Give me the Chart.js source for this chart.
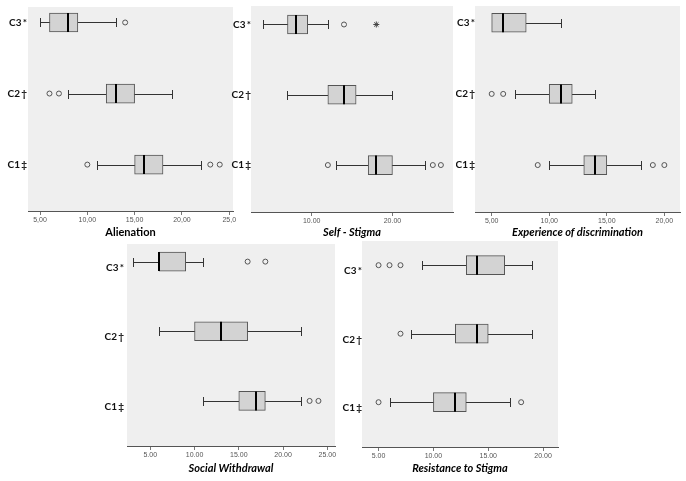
<!DOCTYPE html>
<html>
<head>
<meta charset="utf-8">
<script src="https://cdn.jsdelivr.net/npm/chart.js@4.4.1/dist/chart.umd.min.js"></script>
<style>
  body { margin: 0; background: #fff; }
  #wrap { position: relative; width: 686px; height: 481px; overflow: hidden; }
  canvas { position: absolute; }
</style>
</head>
<body>
<div id="wrap">
  <canvas id="alien"></canvas>
  <canvas id="stigma"></canvas>
  <canvas id="discr"></canvas>
  <canvas id="withdraw"></canvas>
  <canvas id="resist"></canvas>
</div>
<script>
// groups, top to bottom
const groups = ['C3', 'C2', 'C1'];
const marks = ['*', '\u2020', '\u2021'];
const groupPos = [3, 2, 1];

// Alienation
const alienMin = [5, 8, 11];
const alienQ1 = [6, 12, 15];
const alienMed = [8, 13, 16];
const alienQ3 = [9, 15, 18];
const alienMax = [13, 19, 22];
const alienOut = [[14], [6, 7], [10, 23, 24]];
const alienExt = [[], [], []];
const alienTicks = [5, 10, 15, 20, 25];
const alienTickLabels = ['5,00', '10,00', '15,00', '20,00', '25,0'];

// Self - Stigma
const stigMin = [4, 7, 13];
const stigQ1 = [7, 12, 17];
const stigMed = [8, 14, 18];
const stigQ3 = [9.5, 15.5, 20];
const stigMax = [12, 20, 24];
const stigOut = [[14], [], [12, 25, 26]];
const stigExt = [[18], [], []];
const stigTicks = [10, 20];
const stigTickLabels = ['10.00', '20.00'];

// Experience of discrimination
const discMin = [5, 7, 10];
const discQ1 = [5, 10, 13];
const discMed = [6, 11, 14];
const discQ3 = [8, 12, 15];
const discMax = [11, 14, 18];
const discOut = [[], [5, 6], [9, 19, 20]];
const discExt = [[], [], []];
const discTicks = [5, 10, 15, 20];
const discTickLabels = ['5,00', '10,00', '15,00', '20,00'];

// Social Withdrawal
const withMin = [3, 6, 11];
const withQ1 = [6, 10, 15];
const withMed = [6, 13, 17];
const withQ3 = [9, 16, 18];
const withMax = [11, 22, 22];
const withOut = [[16, 18], [], [23, 24]];
const withExt = [[], [], []];
const withTicks = [5, 10, 15, 20, 25];
const withTickLabels = ['5.00', '10.00', '15.00', '20.00', '25.00'];

// Resistance to Stigma
const resMin = [9, 8, 6];
const resQ1 = [13, 12, 10];
const resMed = [14, 14, 12];
const resQ3 = [16.5, 15, 13];
const resMax = [19, 19, 17];
const resOut = [[5, 6, 7], [7], [5, 18]];
const resExt = [[], [], []];
const resTicks = [5, 10, 15, 20];
const resTickLabels = ['5.00', '10.00', '15.00', '20.00'];

const boxH = 19;

function makePanel(id, box, lay, title, italic) {
  const el = document.getElementById(id);
  el.width = lay.w; el.height = lay.h;
  el.style.left = lay.x + 'px'; el.style.top = lay.y + 'px';

  const flat = arr => arr.flatMap((vals, i) => vals.map(v => ({x: v, y: groupPos[i]})));

  const whiskers = {
    id: 'whiskers',
    beforeDraw(chart) {
      const {ctx, chartArea: a} = chart;
      ctx.save();
      ctx.fillStyle = '#efefef';
      ctx.fillRect(a.left, a.top, a.right - a.left, a.bottom - a.top);
      ctx.restore();
    },
    beforeDatasetsDraw(chart) {
      const {ctx, scales: {x, y}} = chart;
      ctx.save();
      ctx.strokeStyle = '#333';
      ctx.lineWidth = 1;
      groupPos.forEach((p, i) => {
        const py = Math.round(y.getPixelForValue(p)) + 0.5;
        const a = Math.round(x.getPixelForValue(box.min[i])) + 0.5;
        const b = Math.round(x.getPixelForValue(box.max[i])) + 0.5;
        ctx.beginPath();
        ctx.moveTo(a, py); ctx.lineTo(b, py);
        ctx.moveTo(a, py - 4.5); ctx.lineTo(a, py + 4.5);
        ctx.moveTo(b, py - 4.5); ctx.lineTo(b, py + 4.5);
        ctx.stroke();
      });
      ctx.restore();
    },
    afterDatasetsDraw(chart) {
      const {ctx, scales: {x, y}} = chart;
      ctx.save();
      ctx.strokeStyle = '#000';
      ctx.lineWidth = 2;
      groupPos.forEach((p, i) => {
        const py = y.getPixelForValue(p);
        const m = Math.round(x.getPixelForValue(box.med[i]));
        ctx.beginPath();
        ctx.moveTo(m, py - boxH / 2); ctx.lineTo(m, py + boxH / 2);
        ctx.stroke();
      });
      ctx.restore();
    }
  };

  return new Chart(el, {
    type: 'bar',
    data: {
      datasets: [
        {
          type: 'bar',
          data: groupPos.map((p, i) => ({x: [box.q1[i], box.q3[i]], y: p})),
          backgroundColor: '#d3d3d3',
          borderColor: '#555',
          borderWidth: 1,
          borderSkipped: false,
          barThickness: boxH
        },
        {
          type: 'scatter',
          data: flat(box.out),
          pointStyle: 'circle',
          pointRadius: 2.5,
          borderColor: '#555',
          backgroundColor: 'rgba(0,0,0,0)',
          borderWidth: 1
        },
        {
          type: 'scatter',
          data: flat(box.ext),
          pointStyle: 'star',
          pointRadius: 3,
          borderColor: '#444',
          backgroundColor: '#444',
          borderWidth: 1
        }
      ]
    },
    options: {
      indexAxis: 'y',
      responsive: false,
      animation: false,
      layout: {padding: {top: lay.top - lay.y, right: lay.x + lay.w - lay.right, left: 0, bottom: 0}},
      plugins: {legend: {display: false}, tooltip: {enabled: false}},
      scales: {
        x: {
          type: 'linear',
          min: lay.xmin, max: lay.xmax,
          afterBuildTicks: s => { s.ticks = box.ticks.map(v => ({value: v})); },
          afterFit: s => { s.height = lay.y + lay.h - lay.bottom; },
          ticks: {
            callback: v => box.tickLabels[box.ticks.indexOf(v)],
            font: {size: 7, family: 'Liberation Sans'},
            color: '#555', padding: 1, autoSkip: false, maxRotation: 0
          },
          grid: {display: true, drawOnChartArea: false, drawTicks: true, tickLength: 4, color: '#777'},
          border: {display: true, color: '#555', width: 1},
          title: {
            display: true, text: title, color: '#000',
            font: {size: 11, weight: 'bold', style: italic ? 'italic' : 'normal', family: 'Lato'},
            padding: {top: 0, bottom: 6}
          }
        },
        y: {
          type: 'linear',
          min: lay.ymin, max: lay.ymax,
          offset: false,
          afterBuildTicks: s => { s.ticks = groupPos.map(v => ({value: v})); },
          afterFit: s => { s.width = lay.left - lay.x; },
          ticks: {
            callback: v => groups[groupPos.indexOf(v)] + '\u2009' + marks[groupPos.indexOf(v)],
            font: {size: 10, weight: 'bold', family: 'Lato'},
            color: '#111', padding: lay.labelPad, labelOffset: lay.labelShift
          },
          grid: {display: false, drawTicks: false, offset: false},
          border: {display: false}
        }
      }
    },
    plugins: [whiskers]
  });
}

makePanel('alien',
  {min: alienMin, q1: alienQ1, med: alienMed, q3: alienQ3, max: alienMax, out: alienOut, ext: alienExt, ticks: alienTicks, tickLabels: alienTickLabels},
  {x: 0, y: 0, w: 240, h: 245, left: 28, right: 233, top: 0, bottom: 211, xmin: 3.73, xmax: 25.4, ymin: 0.347, ymax: 3.218, labelPad: 1, labelShift: 0},
  'Alienation', false);

makePanel('stigma',
  {min: stigMin, q1: stigQ1, med: stigMed, q3: stigQ3, max: stigMax, out: stigOut, ext: stigExt, ticks: stigTicks, tickLabels: stigTickLabels},
  {x: 228, y: 0, w: 232, h: 245, left: 251, right: 453, top: 0, bottom: 212, xmin: 2.48, xmax: 27.5, ymin: 0.332, ymax: 3.263, labelPad: 0, labelShift: 0},
  'Self - Stigma', true);

makePanel('discr',
  {min: discMin, q1: discQ1, med: discMed, q3: discQ3, max: discMax, out: discOut, ext: discExt, ticks: discTicks, tickLabels: discTickLabels},
  {x: 456, y: 0, w: 230, h: 245, left: 475, right: 680, top: 0, bottom: 212, xmin: 3.55, xmax: 21.36, ymin: 0.34, ymax: 3.236, labelPad: 0, labelShift: 0},
  'Experience of discrimination', true);

makePanel('withdraw',
  {min: withMin, q1: withQ1, med: withMed, q3: withQ3, max: withMax, out: withOut, ext: withExt, ticks: withTicks, tickLabels: withTickLabels},
  {x: 95, y: 235, w: 245, h: 246, left: 127, right: 335, top: 243, bottom: 446, xmin: 2.37, xmax: 25.87, ymin: 0.353, ymax: 3.253, labelPad: 3, labelShift: 6},
  'Social Withdrawal', true);

makePanel('resist',
  {min: resMin, q1: resQ1, med: resMed, q3: resQ3, max: resMax, out: resOut, ext: resExt, ticks: resTicks, tickLabels: resTickLabels},
  {x: 335, y: 235, w: 230, h: 246, left: 362, right: 558, top: 240, bottom: 447, xmin: 3.49, xmax: 21.36, ymin: 0.346, ymax: 3.353, labelPad: 0, labelShift: 6},
  'Resistance to Stigma', true);
</script>
</body>
</html>
